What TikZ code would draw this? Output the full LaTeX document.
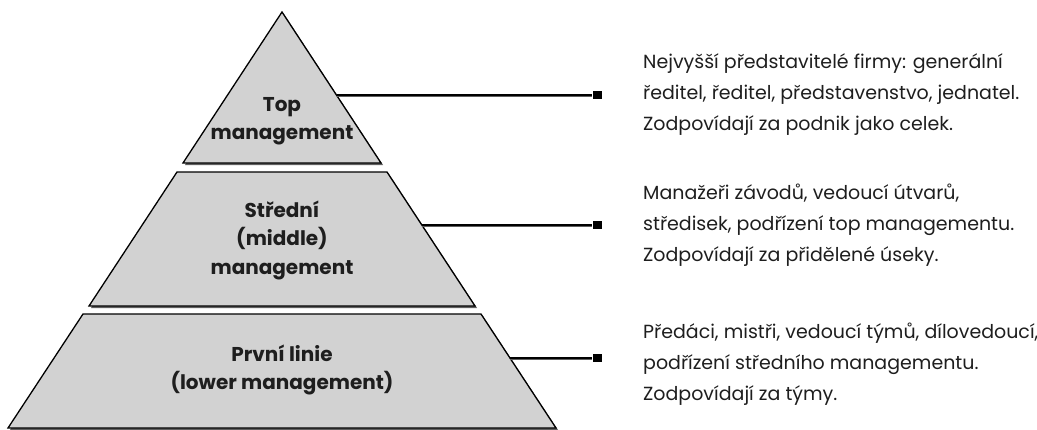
\documentclass[tikz,border=0pt]{standalone}
\usepackage{fontspec}
\setmainfont{Poppins}
\definecolor{pyrfill}{RGB}{210,210,210}
\definecolor{pyrshadow}{RGB}{95,95,95}
\definecolor{inkgray}{RGB}{30,30,30}
\begin{document}
\begin{tikzpicture}[x=1pt,y=-1pt,
  tier/.style={fill=pyrfill,draw=black,line width=1.3pt,line join=miter},
  tiershadow/.style={fill=pyrshadow},
  tierlabel/.style={font=\bfseries\fontsize{20}{28.5}\selectfont,align=center,text=inkgray,inner sep=0pt},
  desc/.style={font=\fontsize{19}{31}\selectfont,align=left,anchor=west,inner sep=0pt,text=inkgray},
  tick/.style={fill=black,minimum width=9pt,minimum height=8pt,inner sep=0pt},
  leader/.style={draw=black,line width=1.3pt},
  leadershadow/.style={draw=pyrshadow,line width=1pt}]
\useasboundingbox (0,0) rectangle (1037,429);

% shadows of the three tiers
\fill[tiershadow] (284,14) -- (383,165) -- (185,165) -- cycle;
\fill[tiershadow] (179,174) -- (389,174) -- (477,308) -- (91,308) -- cycle;
\fill[tiershadow] (85,316) -- (483,316) -- (558,430) -- (10,430) -- cycle;

% the three tiers
\draw[tier] (282,12) -- (381,163) -- (183,163) -- cycle;
\draw[tier] (177,172) -- (387,172) -- (475,306) -- (89,306) -- cycle;
\draw[tier] (83,314) -- (481,314) -- (556,428) -- (8,428) -- cycle;

% tier labels
\node[tierlabel] (ltop) at (282,121) {Top\\management};
\node[tierlabel] (lmid) at (282,240) {Střední\\(middle)\\management};
\node[tierlabel] (llow) at (282,370) {První linie\\(lower management)};

% leader end points on the right edge of the pyramid
\coordinate (e1) at (337,95);
\coordinate (e2) at (422,225);
\coordinate (e3) at (510,358);

% end markers
\node[tick] (s1) at (597,95) {};
\node[tick] (s2) at (597,225) {};
\node[tick] (s3) at (597,358) {};

% leaders with their soft shadow
\draw[leadershadow] ([yshift=-1.6pt]e1) -- ([yshift=-1.6pt]s1.west);
\draw[leadershadow] ([yshift=-1.6pt]e2) -- ([yshift=-1.6pt]s2.west);
\draw[leadershadow] ([yshift=-1.6pt]e3) -- ([yshift=-1.6pt]s3.west);
\draw[leader] (e1) -- (s1);
\draw[leader] (e2) -- (s2);
\draw[leader] (e3) -- (s3);

% descriptions
\node[desc] (d1) at (643,95) {Nejvyšší představitelé firmy: generální\\ředitel, ředitel, představenstvo, jednatel.\\Zodpovídají za podnik jako celek.};
\node[desc] (d2) at (643,225) {Manažeři závodů, vedoucí útvarů,\\středisek, podřízení top managementu.\\Zodpovídají za přidělené úseky.};
\node[desc] (d3) at (643,364) {Předáci, mistři, vedoucí týmů, dílovedoucí,\\podřízení středního managementu.\\Zodpovídají za týmy.};
\end{tikzpicture}
\end{document}
